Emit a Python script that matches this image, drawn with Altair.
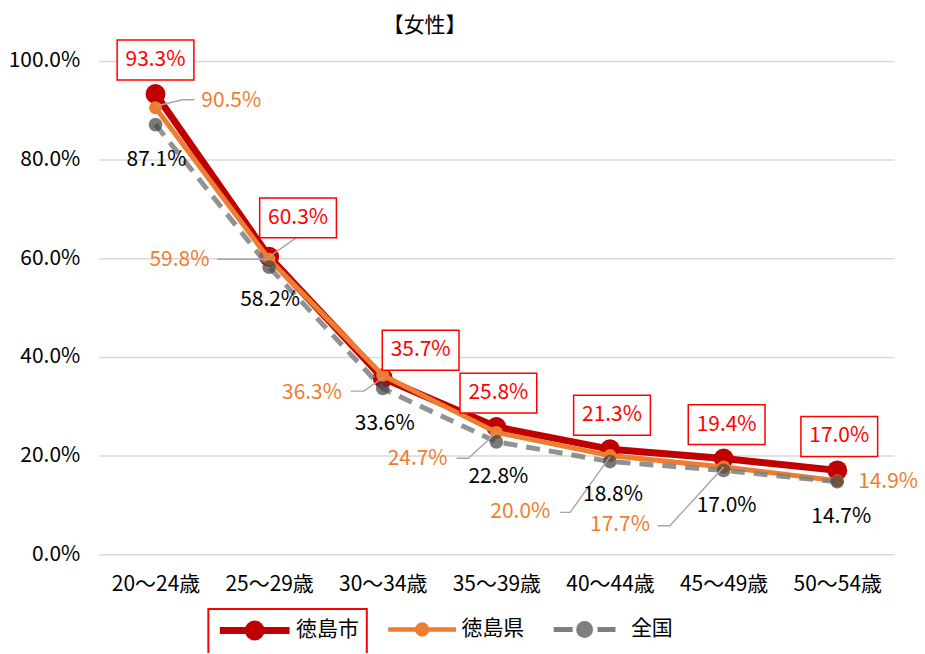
import altair as alt
import pandas as pd

FONT = "Noto Sans CJK JP"

categories = ["20～24歳", "25～29歳", "30～34歳", "35～39歳", "40～44歳", "45～49歳", "50～54歳"]
city = [93.3, 60.3, 35.7, 25.8, 21.3, 19.4, 17.0]
pref = [90.5, 59.8, 36.3, 24.7, 20.0, 17.7, 14.9]
nation = [87.1, 58.2, 33.6, 22.8, 18.8, 17.0, 14.7]
series_names = ["徳島市", "徳島県", "全国"]
series_colors = ["#C00000", "#ED7D31", "#7F7F7F"]
y_ticks = [0, 20, 40, 60, 80, 100]

# label placement, pixel offsets (dx, dy) from each point
city_label_px = [(0, -34), (29, -39), (38, -28), (2, -34), (2, -34), (3, -34), (2, -34)]
pref_label_px = [(76, -7), (-90, 1), (-71, 18), (-79, 27), (-90, 57), (-104, 58), (51, 1)]
nation_label_px = [(1, 36), (1, 33), (2, 36), (2, 35), (3, 34), (3, 36), (4, 35)]
leader_px = [
    ("徳島県", 0, [(2, -2), (27, -8), (39, -8)]),
    ("徳島県", 1, [(-2, 0), (-52, 0)]),
    ("徳島県", 2, [(1, 2), (-19, 16), (-32, 16)]),
    ("徳島県", 3, [(0, 0), (-28, 26), (-40, 26)]),
    ("徳島県", 4, [(0, 1), (-40, 57), (-50, 57)]),
    ("徳島県", 5, [(0, 0), (-54, 59), (-66, 59)]),
    ("徳島市", 1, [(0, 0), (27, -19)]),
]

W, H = 798, 495
PXX = W / len(categories)
PXY = H / 100.0

vals = dict(zip(series_names, [city, pref, nation]))
offs = dict(zip(series_names, [city_label_px, pref_label_px, nation_label_px]))

line_rows = []
label_rows = []
for s in series_names:
    for i, v in enumerate(vals[s]):
        line_rows.append({"series": s, "x": i, "y": v})
        dx, dy = offs[s][i]
        label_rows.append({"series": s, "x": i + dx / PXX, "y": v - dy / PXY, "text": f"{v:.1f}%"})
lines_df = pd.DataFrame(line_rows)
labels_df = pd.DataFrame(label_rows)

leader_rows = []
for k, (s, i, pts) in enumerate(leader_px):
    v = vals[s][i]
    for o, (dx, dy) in enumerate(pts):
        leader_rows.append({"id": k, "order": o, "x": i + dx / PXX, "y": v - dy / PXY})
leader_df = pd.DataFrame(leader_rows)

x_label_expr = "[" + ",".join(f"'{c}'" for c in categories) + "][datum.value]"

x_enc = alt.X(
    "x:Q",
    scale=alt.Scale(domain=[-0.5, len(categories) - 0.5], nice=False, zero=False),
    axis=alt.Axis(values=list(range(len(categories))), labelExpr=x_label_expr, grid=False,
                  ticks=False, domain=False, title=None, labelFont=FONT, labelFontSize=21,
                  labelColor="#000000", labelPadding=19, labelFlush=False, labelOverlap=False),
)
y_enc = alt.Y(
    "y:Q",
    scale=alt.Scale(domain=[0, 100], nice=False),
    axis=alt.Axis(values=y_ticks, labelExpr="format(datum.value, '.1f') + '%'", grid=True,
                  gridColor="#D9D9D9", gridWidth=1.5, ticks=False, domain=False, title=None,
                  labelFont=FONT, labelFontSize=21, labelColor="#000000", labelPadding=19),
)

# legend symbols: line with a marker (10 px per unit, symbolSize 400)
legend_paths = {
    "徳島市": "M-1,0L6,0M1.85,0A0.65,0.65,0,1,1,3.15,0A0.65,0.65,0,1,1,1.85,0Z",
    "徳島県": "M-1,0L5.8,0M1.9,0A0.5,0.5,0,1,1,2.9,0A0.5,0.5,0,1,1,1.9,0Z",
    "全国": "M-1,0L0.9,0M3.4,0L5.2,0M1.5,0A0.6,0.6,0,1,1,2.7,0A0.6,0.6,0,1,1,1.5,0Z",
}
legend_x = {"徳島市": 110, "徳島県": 280, "全国": 446}
legend_label_offset = {"徳島市": 53, "徳島県": 51, "全国": 55}
legend_stroke_w = {"徳島市": 7, "徳島県": 4.5, "全国": 5}

def make_legend(s, c):
    kw = dict(
        title=None, orient="none", legendX=legend_x[s], legendY=550, direction="horizontal",
        symbolType=legend_paths[s], symbolSize=400, symbolStrokeWidth=legend_stroke_w[s],
        symbolFillColor=c, symbolStrokeColor=c, symbolDash=[1000, 0], symbolOpacity=1,
        labelOffset=legend_label_offset[s], labelFont=FONT, labelFontSize=21,
        labelColor="#000000", labelLimit=0,
    )
    if s == "徳島市":
        kw["strokeColor"] = "#FF0000"
    return alt.Legend(**kw)

line_styles = {
    "徳島市": dict(strokeWidth=7, strokeCap="round", strokeJoin="round"),
    "徳島県": dict(strokeWidth=5, strokeCap="round", strokeJoin="round"),
    "全国": dict(strokeWidth=5, strokeDash=[14, 9], opacity=0.85),
}
point_styles = {
    "徳島市": dict(color="#C00000", size=400, opacity=1),
    "徳島県": dict(color="#ED7D31", size=170, opacity=1),
    "全国": dict(color="#404040", size=190, opacity=0.7),
}

base_lines = alt.Chart(lines_df)
layers = []
for s, c in zip(series_names, series_colors):
    sub = base_lines.transform_filter(alt.datum.series == s)
    color_enc = alt.Color("series:N", scale=alt.Scale(domain=[s], range=[c]), legend=make_legend(s, c))
    layers.append(sub.mark_line(**line_styles[s]).encode(x=x_enc, y=y_enc, color=color_enc))
    layers.append(sub.mark_circle(**point_styles[s]).encode(x=x_enc, y=y_enc))

leaders = alt.Chart(leader_df).mark_line(color="#A6A6A6", strokeWidth=1.4).encode(
    x=x_enc, y=y_enc, detail="id:N", order="order:Q")
layers.append(leaders)

box_path = "M-1,-0.52L1,-0.52L1,0.52L-1,0.52Z"
boxes = alt.Chart(labels_df).transform_filter(alt.datum.series == "徳島市").mark_point(
    shape=box_path, size=77 * 77, filled=True, fill="#FFFFFF", stroke="#FF0000",
    strokeWidth=1.5, opacity=1).encode(x=x_enc, y=y_enc)
layers.append(boxes)

text_colors = {"徳島市": "#FF0000", "徳島県": "#ED7D31", "全国": "#000000"}
for s in series_names:
    layers.append(
        alt.Chart(labels_df).transform_filter(alt.datum.series == s).mark_text(
            font=FONT, fontSize=21, color=text_colors[s], align="center", baseline="middle"
        ).encode(x=x_enc, y=y_enc, text="text:N")
    )

chart = alt.layer(*layers).resolve_scale(color="independent").resolve_legend(
    color="independent"
).properties(
    width=W, height=H,
    autosize=alt.AutoSizeParams(type="none"),
    padding={"left": 91, "top": 52, "right": 23, "bottom": 98},
    title=alt.TitleParams("【女性】", anchor="start", frame="group", dx=285, offset=1,
                          fontSize=21, fontWeight="normal", font=FONT, color="#000000"),
).configure_view(stroke=None).configure_legend(padding=8, strokeWidth=2, cornerRadius=0)

chart.save("out.html", embed_options={"renderer": "svg", "actions": False})
